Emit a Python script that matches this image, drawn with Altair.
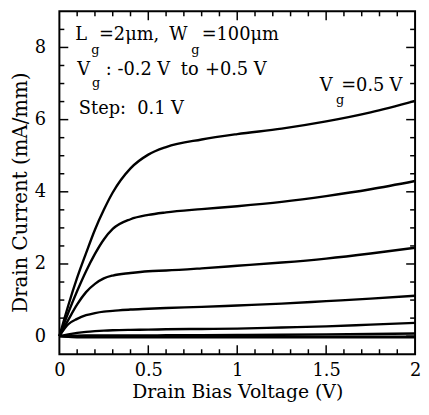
import altair as alt
import pandas as pd

# ---------------- data ----------------
drain_v = [0, 0.05, 0.1, 0.15, 0.2, 0.25, 0.3, 0.4, 0.5, 0.6, 0.8, 1.0, 1.25, 1.5, 1.75, 2.0]

id_vg_p05 = [0, 0.85, 1.62, 2.3, 2.95, 3.5, 3.98, 4.65, 5.03, 5.24, 5.45, 5.6, 5.75, 5.95, 6.2, 6.52]
id_vg_p04 = [0, 0.65, 1.25, 1.8, 2.28, 2.68, 2.97, 3.24, 3.36, 3.43, 3.52, 3.6, 3.72, 3.88, 4.07, 4.3]
id_vg_p03 = [0, 0.45, 0.88, 1.22, 1.45, 1.6, 1.68, 1.75, 1.8, 1.82, 1.88, 1.95, 2.04, 2.15, 2.29, 2.45]
id_vg_p02 = [0, 0.33, 0.48, 0.58, 0.64, 0.68, 0.7, 0.74, 0.76, 0.78, 0.81, 0.85, 0.9, 0.97, 1.04, 1.12]
id_vg_p01 = [0, 0.05, 0.09, 0.12, 0.14, 0.155, 0.165, 0.175, 0.18, 0.19, 0.2, 0.21, 0.24, 0.27, 0.32, 0.37]
id_vg_p00 = [0, 0.01, 0.015, 0.018, 0.02, 0.02, 0.02, 0.02, 0.022, 0.025, 0.028, 0.032, 0.038, 0.048, 0.06, 0.075]
id_vg_m01 = [0, -0.01, -0.015, -0.015, -0.015, -0.015, -0.015, -0.015, -0.015, -0.015, -0.015, -0.015, -0.015, -0.015, -0.015, -0.015]
id_vg_m02 = [0, -0.02, -0.03, -0.035, -0.035, -0.035, -0.035, -0.035, -0.035, -0.035, -0.035, -0.035, -0.035, -0.035, -0.035, -0.035]

gate_v = [0.5, 0.4, 0.3, 0.2, 0.1, 0.0, -0.1, -0.2]
currents = [id_vg_p05, id_vg_p04, id_vg_p03, id_vg_p02, id_vg_p01, id_vg_p00, id_vg_m01, id_vg_m02]

x_label_vals = [0, 0.5, 1, 1.5, 2]
y_label_vals = [0, 2, 4, 6, 8]
x_major_ticks = [0.5, 1, 1.5]
x_minor_ticks = [0.1, 0.2, 0.3, 0.4, 0.6, 0.7, 0.8, 0.9, 1.1, 1.2, 1.3, 1.4, 1.6, 1.7, 1.8, 1.9]
y_major_ticks = [0, 2, 4, 6, 8]
y_minor_ticks = [0.5, 1, 1.5, 2.5, 3, 3.5, 4.5, 5, 5.5, 6.5, 7, 7.5, 8.5]

ann_text = ["L", "=2\u03bcm,", "W", "=100\u03bcm", "V", ": -0.2 V", "to", "+0.5 V",
            "Step:", "0.1", "V", "V", "=0.5", "V"]
ann_x = [0.122, 0.392, 0.669, 1.017, 0.136, 0.442, 0.733, 0.992,
         0.242, 0.517, 0.664, 1.5, 1.706, 1.892]
ann_y = [8.206, 8.206, 8.206, 8.206, 7.248, 7.248, 7.248, 7.248,
         6.153, 6.153, 6.153, 6.802, 6.802, 6.802]
sub_text = ["g", "g", "g", "g"]
sub_x = [0.203, 0.764, 0.206, 1.578]
sub_y = [7.809, 7.809, 6.892, 6.426]

# ---------------- build tables ----------------
rows = [{"vd": v, "id": i, "vg": g}
        for g, cur in zip(gate_v, currents) for v, i in zip(drain_v, cur)]
df = pd.DataFrame(rows)

W, H = 360, 347
FONT = "DejaVu Serif"
xs = alt.Scale(domain=[0, 2], nice=False, zero=False)
ys = alt.Scale(domain=[-0.5, 9], nice=False, zero=False)

lines = alt.Chart(df).mark_line(color="black", strokeWidth=2.4, interpolate="monotone").encode(
    x=alt.X("vd:Q", scale=xs, title="Drain Bias Voltage (V)",
            axis=alt.Axis(values=x_label_vals, format="~g")),
    y=alt.Y("id:Q", scale=ys, title="Drain Current (mA/mm)",
            axis=alt.Axis(values=y_label_vals, format="d", titleY=183)),
    detail="vg:N",
)


def xticks(vals, length, side):
    c = alt.Chart(pd.DataFrame({"vd": vals})).mark_rule(color="black", strokeWidth=1.5)
    if side == "bottom":
        return c.encode(x=alt.X("vd:Q", scale=xs), y=alt.value(H), y2=alt.value(H - length))
    return c.encode(x=alt.X("vd:Q", scale=xs), y=alt.value(0), y2=alt.value(length))


def yticks(vals, length, side):
    c = alt.Chart(pd.DataFrame({"id": vals})).mark_rule(color="black", strokeWidth=1.5)
    if side == "left":
        return c.encode(y=alt.Y("id:Q", scale=ys), x=alt.value(0), x2=alt.value(length))
    return c.encode(y=alt.Y("id:Q", scale=ys), x=alt.value(W), x2=alt.value(W - length))


tick_layers = [
    xticks(x_major_ticks, 9, "bottom"), xticks(x_minor_ticks, 5, "bottom"),
    xticks(x_major_ticks, 9, "top"), xticks(x_minor_ticks, 5, "top"),
    yticks(y_major_ticks, 9, "left"), yticks(y_minor_ticks, 5, "left"),
    yticks(y_major_ticks, 9, "right"), yticks(y_minor_ticks, 5, "right"),
]

ann_main = alt.Chart(pd.DataFrame({"t": ann_text, "vd": ann_x, "id": ann_y})).mark_text(
    font=FONT, fontSize=18, color="black", align="center", baseline="alphabetic"
).encode(x=alt.X("vd:Q", scale=xs), y=alt.Y("id:Q", scale=ys), text="t:N")

ann_sub = alt.Chart(pd.DataFrame({"t": sub_text, "vd": sub_x, "id": sub_y})).mark_text(
    font=FONT, fontSize=13, color="black", align="center", baseline="alphabetic"
).encode(x=alt.X("vd:Q", scale=xs), y=alt.Y("id:Q", scale=ys), text="t:N")

chart = alt.layer(lines, *tick_layers, ann_main, ann_sub).properties(
    width=W, height=H, padding={"left": 2, "top": 0, "right": 0, "bottom": 0},
    background="white",
).configure(
    font=FONT
).configure_view(
    stroke="black", strokeWidth=2
).configure_axis(
    ticks=False, tickSize=0, domain=False, grid=False,
    labelFont=FONT, labelFontSize=18, labelColor="black", labelFlush=False,
    titleFont=FONT, titleFontWeight="normal", titleColor="black",
).configure_axisX(
    labelPadding=8, titleFontSize=19, titlePadding=3,
).configure_axisY(
    labelPadding=14, titleFontSize=20, titlePadding=4,
)

chart.save("out.html", embed_options={"renderer": "svg", "actions": False})
